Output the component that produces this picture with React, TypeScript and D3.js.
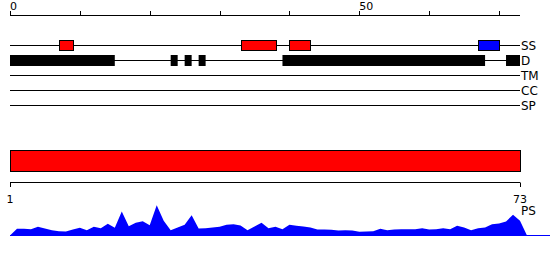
import React from "react";
import * as d3 from "d3";

const LENGTH = 73;
const topTicks = [0, 10, 20, 30, 40, 50, 60, 70];
const topTickLabels = ["0", "", "", "", "", "50", "", ""];
const trackNames = ["SS", "D", "TM", "CC", "SP"];

const ssStart = [7, 33, 40, 67];
const ssEnd = [9, 38, 43, 70];
const ssColor = ["#ff0000", "#ff0000", "#ff0000", "#0000ff"];

const dStart = [0, 23, 25, 27, 39, 71];
const dEnd = [15, 24, 26, 28, 68, 73];

const domainStart = [1];
const domainEnd = [73];
const bottomTicks = [1, 73];

const psValues = [
  6.7, 6.7, 6.3, 8.7, 7, 5.3, 4.3, 4, 6, 7.7, 5.3, 8.7, 7.3, 11.7, 7.7, 24, 9.3,
  12.7, 14.3, 10.3, 30.3, 14.7, 5.3, 8, 10.7, 20.3, 7, 7.3, 8, 8.7, 10.7, 11.3,
  10, 5.3, 9, 12.7, 7.3, 8.7, 6.3, 10.7, 9.7, 9, 8, 6, 6, 5.7, 5, 5.3, 5, 3.7,
  4, 4.3, 6.7, 5.3, 6, 6.3, 6.3, 6.3, 7.3, 6, 6.3, 7.3, 6.3, 9.7, 8, 5.3, 7.3,
  8, 11.3, 12, 14, 20.7, 14.7,
];

const FONT = "DejaVu Sans, Verdana, sans-serif";

export default function App() {
  const W = 550;
  const H = 260;
  const x = d3.scaleLinear().domain([0, LENGTH]).range([10, 520]);
  const xb = d3.scaleLinear().domain([1, LENGTH]).range([10, 520]);
  const trackY = d3
    .scalePoint<string>()
    .domain(trackNames)
    .range([45, 105]);
  const boxH = 10;

  const psPoints: [number, number][] = [
    [0, 0],
    ...psValues.map((v, i) => [i + 1, v] as [number, number]),
    [LENGTH + 1, 0],
  ];
  const yPs = d3.scaleLinear().domain([0, 30]).range([235.5, 205.5]);
  const area = d3
    .area<[number, number]>()
    .x((d) => x(d[0]))
    .y0(yPs(0))
    .y1((d) => yPs(d[1]));

  const ssY = trackY("SS")!;
  const dY = trackY("D")!;

  return (
    <svg
      width={W}
      height={H}
      style={{ position: "absolute", left: 0, top: 0, background: "#fff" }}
      fontFamily={FONT}
    >
      {/* top axis */}
      <g>
        <line x1={x(0)} x2={x(LENGTH)} y1={15.5} y2={15.5} stroke="#000" />
        {topTicks.map((t, i) => (
          <g key={t}>
            <line
              x1={Math.round(x(t)) + 0.5}
              x2={Math.round(x(t)) + 0.5}
              y1={11}
              y2={15.5}
              stroke="#000"
            />
            {topTickLabels[i] && (
              <text x={x(t)} y={10} fontSize={11} fill="#000">
                {topTickLabels[i]}
              </text>
            )}
          </g>
        ))}
      </g>

      {/* track lines and labels */}
      {trackNames.map((n) => (
        <g key={n}>
          <line
            x1={x(0)}
            x2={x(LENGTH)}
            y1={trackY(n)! + 0.5}
            y2={trackY(n)! + 0.5}
            stroke="#000"
          />
          <text
            x={x(LENGTH) + 1}
            y={trackY(n)! + 5}
            fontSize={12}
            fill="#000"
          >
            {n}
          </text>
        </g>
      ))}

      {/* SS features */}
      {ssStart.map((s, i) => (
        <rect
          key={"ss" + i}
          x={Math.round(x(s)) + 0.5}
          y={ssY - boxH / 2 + 0.5}
          width={Math.round(x(ssEnd[i]) - x(s))}
          height={boxH}
          fill={ssColor[i]}
          stroke="#000"
        />
      ))}

      {/* D features */}
      {dStart.map((s, i) => (
        <rect
          key={"d" + i}
          x={x(s)}
          y={dY - boxH / 2}
          width={x(dEnd[i]) - x(s)}
          height={boxH + 1}
          fill="#000"
        />
      ))}

      {/* domain bar */}
      {domainStart.map((s, i) => (
        <rect
          key={"dom" + i}
          x={Math.round(xb(s)) + 0.5}
          y={150.5}
          width={Math.round(xb(domainEnd[i]) - xb(s))}
          height={21}
          fill="#ff0000"
          stroke="#000"
        />
      ))}

      {/* bottom axis */}
      <line x1={xb(1)} x2={xb(LENGTH)} y1={182.5} y2={182.5} stroke="#000" />
      {bottomTicks.map((t) => (
        <g key={"bt" + t}>
          <line
            x1={Math.round(xb(t)) + 0.5}
            x2={Math.round(xb(t)) + 0.5}
            y1={182.5}
            y2={187}
            stroke="#000"
          />
          <text
            x={xb(t)}
            y={203}
            fontSize={11}
            textAnchor="middle"
            fill="#000"
          >
            {t}
          </text>
        </g>
      ))}

      {/* PS area */}
      <path d={area(psPoints) || ""} fill="#0000ff" />
      <line x1={x(0)} x2={W} y1={235.5} y2={235.5} stroke="#0000ff" />
      <text x={x(LENGTH) + 1} y={215} fontSize={12} fill="#000">
        PS
      </text>
    </svg>
  );
}
